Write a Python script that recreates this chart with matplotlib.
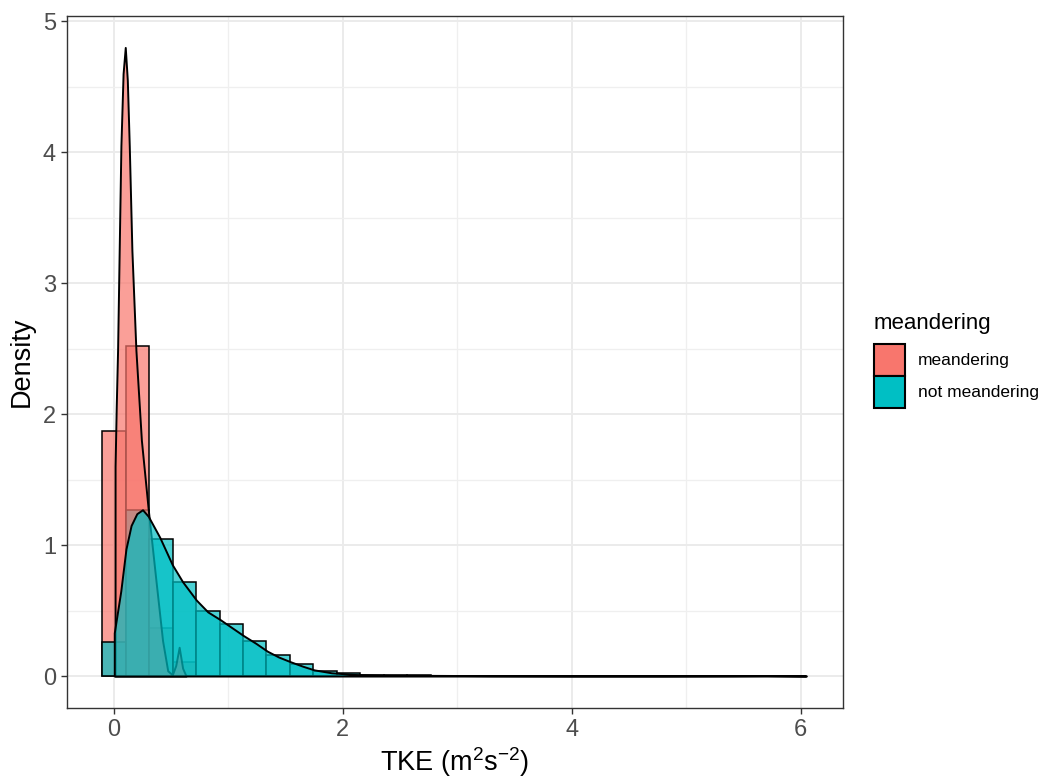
import numpy as np
import matplotlib
matplotlib.use("Agg")
import matplotlib.pyplot as plt
from matplotlib.patches import Patch

plt.rcParams['font.family'] = ['Liberation Sans', 'DejaVu Sans']
plt.rcParams['mathtext.fontset'] = 'custom'
plt.rcParams['mathtext.rm'] = 'Liberation Sans'
plt.rcParams['mathtext.default'] = 'regular'

# --- data ---
groups = ["meandering", "not meandering"]
colors = ["#F8766D", "#00BFC4"]

bin_start = -0.1025
bin_width = 0.205
# histogram densities per bin (30 bins)
hist_meander = [1.87, 2.52, 0.37, 0.11, 0, 0, 0, 0, 0, 0,
                0, 0, 0, 0, 0, 0, 0, 0, 0, 0,
                0, 0, 0, 0, 0, 0, 0, 0, 0, 0]
hist_not_meander = [0.26, 1.27, 1.05, 0.72, 0.50, 0.40, 0.27, 0.16, 0.09, 0.04,
                    0.02, 0.01, 0.006, 0.005, 0.004, 0.003, 0.003, 0.002, 0.002, 0.002,
                    0.001, 0.001, 0.001, 0.001, 0.001, 0.001, 0.002, 0.002, 0.001, 0.001]

# kernel density curves
dens_meander_x = [0.01, 0.02, 0.032, 0.046, 0.061, 0.08, 0.099, 0.117, 0.134, 0.157,
                  0.192, 0.24, 0.30, 0.367, 0.425, 0.47, 0.51, 0.54, 0.57, 0.60, 0.63]
dens_meander_y = [1.6, 2.05, 2.49, 3.25, 4.05, 4.6, 4.8, 4.55, 4.05, 3.25,
                  2.49, 1.8, 1.27, 0.73, 0.27, 0.04, 0.01, 0.08, 0.22, 0.06, 0.0]
dens_not_x = [0.003, 0.06, 0.105, 0.15, 0.2, 0.25, 0.3, 0.4, 0.51, 0.6,
              0.72, 0.82, 0.93, 1.03, 1.13, 1.24, 1.34, 1.44, 1.54, 1.65,
              1.75, 1.9, 2.1, 2.4, 2.8, 3.3, 4.0, 4.8, 5.4, 5.7, 6.05]
dens_not_y = [0.33, 0.65, 0.97, 1.15, 1.24, 1.27, 1.22, 1.06, 0.85, 0.72,
              0.58, 0.49, 0.43, 0.37, 0.31, 0.25, 0.19, 0.145, 0.11, 0.075,
              0.047, 0.025, 0.012, 0.007, 0.005, 0.003, 0.002, 0.002, 0.003, 0.004, 0.001]

alpha = 0.7

fig = plt.figure(figsize=(10.46, 7.8), dpi=100)
ax = fig.add_axes([67 / 1046, 72 / 780, 776 / 1046, 692 / 780])

centers = bin_start + bin_width / 2 + bin_width * np.arange(len(hist_meander))

for heights, col in zip([hist_meander, hist_not_meander], colors):
    rgba = matplotlib.colors.to_rgba(col, alpha)
    ax.bar(centers, heights, width=bin_width, facecolor=rgba,
           edgecolor="black", linewidth=1.1, zorder=2)

for dx, dy, col in zip([dens_meander_x, dens_not_x], [dens_meander_y, dens_not_y], colors):
    rgba = matplotlib.colors.to_rgba(col, alpha)
    ax.fill_between(dx, 0, dy, facecolor=rgba, edgecolor="black",
                    linewidth=1.4, zorder=3)

ax.set_xlim(-0.41, 6.37)
ax.set_ylim(-0.244, 5.04)
ax.set_xticks([0, 2, 4, 6])
ax.set_xticks([1, 3, 5], minor=True)
ax.set_yticks([0, 1, 2, 3, 4, 5])
ax.set_yticks([0.5, 1.5, 2.5, 3.5, 4.5], minor=True)
ax.grid(which="major", color="#EBEBEB", linewidth=1.4, zorder=0)
ax.grid(which="minor", color="#EFEFEF", linewidth=0.9, zorder=0)
ax.set_axisbelow(True)
ax.tick_params(which="major", length=4, width=1, color="#333333",
               labelsize=17, labelcolor="#4D4D4D", pad=4)
ax.tick_params(which="minor", length=0)
for s in ax.spines.values():
    s.set_color("#333333")
    s.set_linewidth(1)

ax.set_xlabel(r"TKE (m$^{2}$s$^{-2}$)", fontsize=19.5, labelpad=3)
ax.set_ylabel("Density", fontsize=19.5, labelpad=6)

handles = [Patch(facecolor=c, edgecolor="black", linewidth=1.5) for c in colors]
leg = fig.legend(handles, groups, title="meandering", loc="upper left",
                 bbox_to_anchor=(874 / 1046, 1 - 313 / 780), frameon=False,
                 fontsize=12.5, title_fontsize=16, handlelength=1.8, handleheight=2.45,
                 labelspacing=0.0, handletextpad=0.75, borderpad=0, borderaxespad=0,
                 alignment="left")
leg._legend_box.sep = 7

fig.savefig("out.png", dpi=100)
